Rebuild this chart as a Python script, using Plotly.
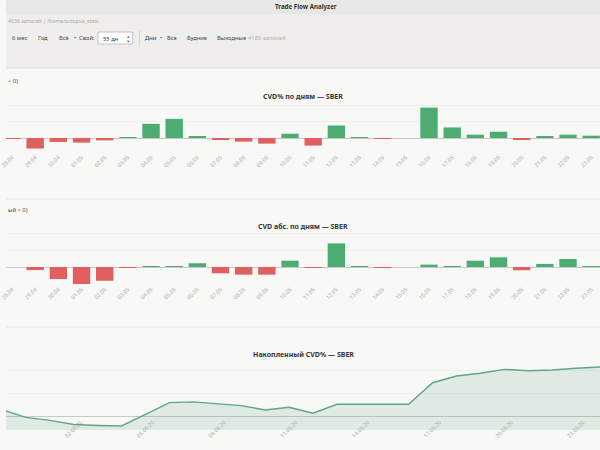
import plotly.graph_objects as go

W, H = 600, 450

# ---------------- data ----------------
day_labels = ["28.04", "29.04", "30.04", "01.05", "02.05", "03.05", "04.05", "05.05",
              "06.05", "07.05", "08.05", "09.05", "10.05", "11.05", "12.05", "13.05",
              "14.05", "15.05", "16.05", "17.05", "18.05", "19.05", "20.05", "21.05",
              "22.05", "23.05"]

cvd_pct = [-0.01, -0.32, -0.12, -0.14, -0.07, 0.003, 0.43, 0.58, 0.06, -0.05, -0.11,
           -0.17, 0.13, -0.23, 0.38, 0.015, -0.01, 0.0, 0.92, 0.32, 0.10, 0.19, -0.05,
           0.06, 0.10, 0.07]

cvd_abs = [0.0, -0.18, -0.71, -1.19, -0.81, -0.02, 0.03, 0.03, 0.22, -0.37, -0.45,
           -0.45, 0.37, -0.03, 1.39, 0.04, -0.02, 0.0, 0.14, 0.04, 0.37, 0.57, -0.19,
           0.18, 0.47, 0.02]

cum_dates = ["2026-04-28 17:00", "2026-04-29 17:00", "2026-04-30 17:00", "2026-05-01 17:00",
             "2026-05-02 17:00", "2026-05-03 17:00", "2026-05-04 17:00", "2026-05-05 17:00",
             "2026-05-06 17:00", "2026-05-07 17:00", "2026-05-08 17:00", "2026-05-09 17:00",
             "2026-05-10 17:00", "2026-05-11 17:00", "2026-05-12 17:00", "2026-05-13 17:00",
             "2026-05-14 17:00", "2026-05-15 17:00", "2026-05-16 17:00", "2026-05-17 17:00",
             "2026-05-18 17:00", "2026-05-19 17:00", "2026-05-20 17:00", "2026-05-21 17:00",
             "2026-05-22 17:00", "2026-05-23 17:00"]

cum_pct = [0.30, -0.03, -0.16, -0.34, -0.38, -0.40, 0.10, 0.61, 0.64, 0.55, 0.48, 0.29,
           0.41, 0.15, 0.54, 0.54, 0.53, 0.54, 1.47, 1.76, 1.88, 2.05, 1.99, 2.02, 2.10,
           2.15]

toolbar_items = [("6 мес", 14, "#444"), ("Год", 37.5, "#444"), ("Всё", 58.5, "#444"),
                 ("•", 70, "#444"), ("Свой:", 82, "#444"), ("Дни", 146, "#333"),
                 ("•", 157, "#444"), ("Все", 167.5, "#444"), ("Будние", 193, "#444"),
                 ("Выходные", 227.5, "#444"), ("4180 записей", 263.5, "#b0b0b0")]

GREEN = "#4dac72"
RED = "#e05f5f"
LINE_GREEN = "#5ea783"
FONT = "Noto Sans"


def px(x):
    return x / W


def py(y):
    return 1 - y / H


fig = go.Figure()

fig.add_trace(go.Bar(
    x=day_labels, y=cvd_pct, xaxis="x", yaxis="y",
    marker=dict(color=[GREEN if v >= 0 else RED for v in cvd_pct], line=dict(width=0)),
    showlegend=False, hoverinfo="skip"))

fig.add_trace(go.Bar(
    x=day_labels, y=cvd_abs, xaxis="x2", yaxis="y2",
    marker=dict(color=[GREEN if v >= 0 else RED for v in cvd_abs], line=dict(width=0)),
    showlegend=False, hoverinfo="skip"))

y3_range = [-0.576, 2.368]
fig.add_trace(go.Scatter(
    x=cum_dates, y=[y3_range[0]] * len(cum_dates), xaxis="x3", yaxis="y3",
    mode="lines", line=dict(width=0), showlegend=False, hoverinfo="skip"))
fig.add_trace(go.Scatter(
    x=cum_dates, y=cum_pct, xaxis="x3", yaxis="y3", mode="lines",
    line=dict(color=LINE_GREEN, width=1.4), fill="tonexty",
    fillcolor="rgba(94,167,131,0.17)", showlegend=False, hoverinfo="skip"))

tickfont = dict(family=FONT, size=5.5, color="#ababab")
cat_x = dict(type="category", range=[-0.26, 25.38], tickmode="linear", tick0=0, dtick=1,
             tickangle=-45, tickfont=tickfont, showgrid=False, showline=False,
             zeroline=False, ticks="", fixedrange=True)
y_common = dict(showticklabels=False, gridcolor="#efefed", gridwidth=1, zeroline=True,
                zerolinecolor="#c8c8c6", zerolinewidth=1, ticks="", showline=False)

fig.update_layout(
    width=W, height=H,
    margin=dict(l=0, r=0, t=0, b=0),
    paper_bgcolor="#f8f8f6", plot_bgcolor="rgba(0,0,0,0)",
    bargap=0.25,
    font=dict(family=FONT, color="#333"),
    xaxis=dict(domain=[0, 1], anchor="y", **cat_x),
    yaxis=dict(domain=[py(152), py(100)], range=[-14 / 33, 38 / 33], dtick=0.5, **y_common),
    xaxis2=dict(domain=[0, 1], anchor="y2", **cat_x),
    yaxis2=dict(domain=[py(284), py(230)], range=[-1.0, 37 / 17], dtick=1, **y_common),
    xaxis3=dict(domain=[0, 1], anchor="free", position=py(417), type="date",
                range=["2026-04-28 21:00", "2026-05-23 17:00"],
                tick0="2026-04-29", dtick=3 * 86400000, tickformat="%d.%m.%y",
                tickangle=-45, tickfont=tickfont, showgrid=False, showline=False,
                zeroline=False, ticks=""),
    yaxis3=dict(domain=[py(430), py(362)], range=y3_range, dtick=1, **y_common),
)

shapes = []
# header
shapes.append(dict(type="rect", xref="paper", yref="paper", x0=0, x1=1, y0=py(14), y1=1,
                   fillcolor="#e7e7e5", line=dict(width=0), layer="below"))
shapes.append(dict(type="rect", xref="paper", yref="paper", x0=0, x1=1, y0=py(68), y1=py(14),
                   fillcolor="#efeeec", line=dict(width=0), layer="below"))
shapes.append(dict(type="line", xref="paper", yref="paper", x0=0, x1=1, y0=py(68), y1=py(68),
                   line=dict(color="#dcdcda", width=1)))
# input box
shapes.append(dict(type="rect", xref="paper", yref="paper", x0=px(93), x1=px(128),
                   y0=py(44), y1=py(32), fillcolor="#ffffff",
                   line=dict(color="#c2c2c0", width=1)))
# toolbar separator
shapes.append(dict(type="line", xref="paper", yref="paper", x0=px(135), x1=px(135),
                   y0=py(47), y1=py(30), line=dict(color="#d6d6d4", width=1)))
# panel separators
for yy in (199, 327):
    shapes.append(dict(type="line", xref="paper", yref="paper", x0=0, x1=1, y0=py(yy), y1=py(yy),
                       line=dict(color="#e6e6e4", width=1)))

annotations = []


def txt(text, x, y, size, color="#333", bold=False, xanchor="center"):
    annotations.append(dict(
        text=f"<b>{text}</b>" if bold else text, x=px(x), y=py(y), xref="paper", yref="paper",
        xanchor=xanchor, yanchor="middle", showarrow=False,
        font=dict(family=FONT, size=size, color=color)))


txt("Trade Flow Analyzer", 303, 7, 6.2, "#333", bold=True)
txt("4036 записей | /home/octopus_stats", 0, 21, 5.2, "#a8a8a8", xanchor="left")
for label, x, color in toolbar_items:
    txt(label, x, 38, 5.8, color)
txt("55 дн", 95.5, 38.5, 5.8, "#333", xanchor="left")
txt("▴", 124, 35.5, 4.5, "#777")
txt("▾", 124, 41, 4.5, "#777")

txt("< 0)", 0, 81, 5.8, "#444", xanchor="left")
txt("ый < 0)", 0, 210, 5.8, "#444", xanchor="left")

txt("CVD% по дням — SBER", 300, 97, 7, "#333", bold=True)
txt("CVD абс. по дням — SBER", 300, 226, 7, "#333", bold=True)
txt("Накопленный CVD% — SBER", 300, 354, 7, "#333", bold=True)

fig.update_layout(shapes=shapes, annotations=annotations)

fig.write_html("out.html")
